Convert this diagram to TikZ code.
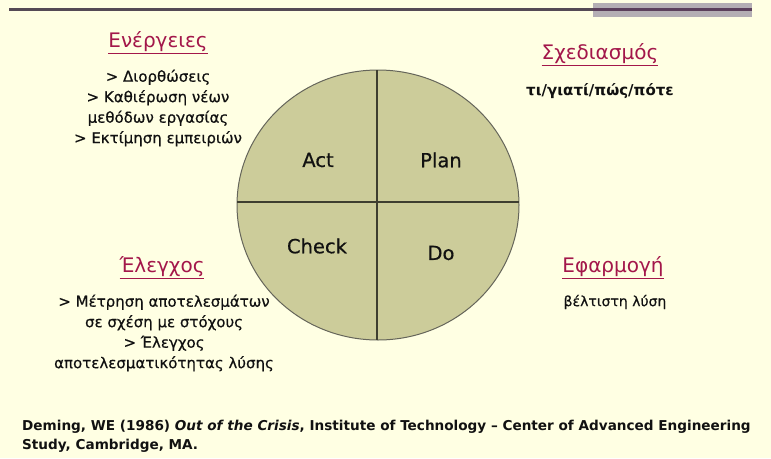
\documentclass[tikz,border=0pt]{standalone}
\usepackage{fontspec}
\setmainfont{DejaVu Sans}
\newfontfamily\notefont[RawFeature={embolden=0.5}]{DejaVu Sans}
\definecolor{pagebg}{HTML}{FFFFE3}
\definecolor{wheel}{HTML}{CCCC9A}
\definecolor{wheelline}{HTML}{3E3E30}
\definecolor{heading}{HTML}{A3174A}
\definecolor{barline}{HTML}{554A55}
\definecolor{barbox}{HTML}{B4AEB4}
\definecolor{ink}{HTML}{111111}
\tikzset{
  heading/.style={text=heading, font=\fontsize{20}{22}\selectfont, inner sep=0pt},
  bodytext/.style={text=ink, font=\notefont\fontsize{15}{20.5}\selectfont, align=center, inner sep=0pt},
  quarter/.style={text=ink, font=\notefont\fontsize{19.5}{22}\selectfont, inner sep=0pt},
  citation/.style={text=ink, font=\bfseries\fontsize{13.6}{19}\selectfont, align=left, anchor=west, inner sep=0pt}
}
\newcommand{\hdline}[1]{\underline{#1}}
\begin{document}
\begin{tikzpicture}[x=1pt, y=-1pt]
  % page and its margins
  \fill[pagebg] (0,0) rectangle (771,458);
  \useasboundingbox (0,0) rectangle (771,458);

  % top rule with the grey block at its right end
  \fill[barbox] (593,3) rectangle (752,17);
  \draw[barline, line width=3pt] (9,9) -- (593,9);
  \draw[barline!85!violet, line width=3pt] (593,9) -- (752,9);

  % PDCA wheel
  \coordinate (c) at (378,205);
  \fill[wheel] (c) ellipse [x radius=141pt, y radius=135pt];
  \draw[wheelline!80!white, line width=1pt] (c) ellipse [x radius=141pt, y radius=135pt];
  \coordinate (wt) at (377,70);
  \coordinate (wb) at (377,340);
  \coordinate (wl) at (237,202);
  \coordinate (wr) at (519,202);
  \draw[wheelline, line width=1.4pt] (wt) -- (wb);
  \draw[wheelline, line width=1.4pt] (wl) -- (wr);

  \node[quarter] (act)   at (318,160) {Act};
  \node[quarter] (plan)  at (441,160) {Plan};
  \node[quarter] (check) at (317,246) {Check};
  \node[quarter] (do)    at (441,253) {Do};

  % headings and notes around the wheel
  \node[heading] (energ) at (158,43) {\hdline{Ενέργειες}};
  \node[bodytext] (energtxt) at (158,108)
    {> Διορθώσεις\\> Καθιέρωση νέων\\μεθόδων εργασίας\\> Εκτίμηση εμπειριών};

  \node[heading] (sxed) at (600,55) {\hdline{Σχεδιασμός}};
  \node[bodytext, font=\bfseries\fontsize{15}{20}\selectfont] (sxedtxt) at (600,91) {τι/γιατί/πώς/πότε};

  \node[heading] (elegx) at (162,268) {\hdline{Έλεγχος}};
  \node[bodytext] (elegxtxt) at (164,333)
    {> Μέτρηση αποτελεσμάτων\\σε σχέση με στόχους\\> Έλεγχος\\αποτελεσματικότητας λύσης};

  \node[heading] (efarm) at (613,268) {\hdline{Εφαρμογή}};
  \node[bodytext, font=\notefont\fontsize{14}{20}\selectfont] (efarmtxt) at (615,302) {βέλτιστη λύση};

  % reference
  \node[citation] (cite1) at (22,427)
    {Deming, WE (1986) \textit{Out of the Crisis}, Institute of Technology – Center of Advanced Engineering};
  \node[citation] (cite2) at (22,446) {Study, Cambridge, MA.};
\end{tikzpicture}
\end{document}
